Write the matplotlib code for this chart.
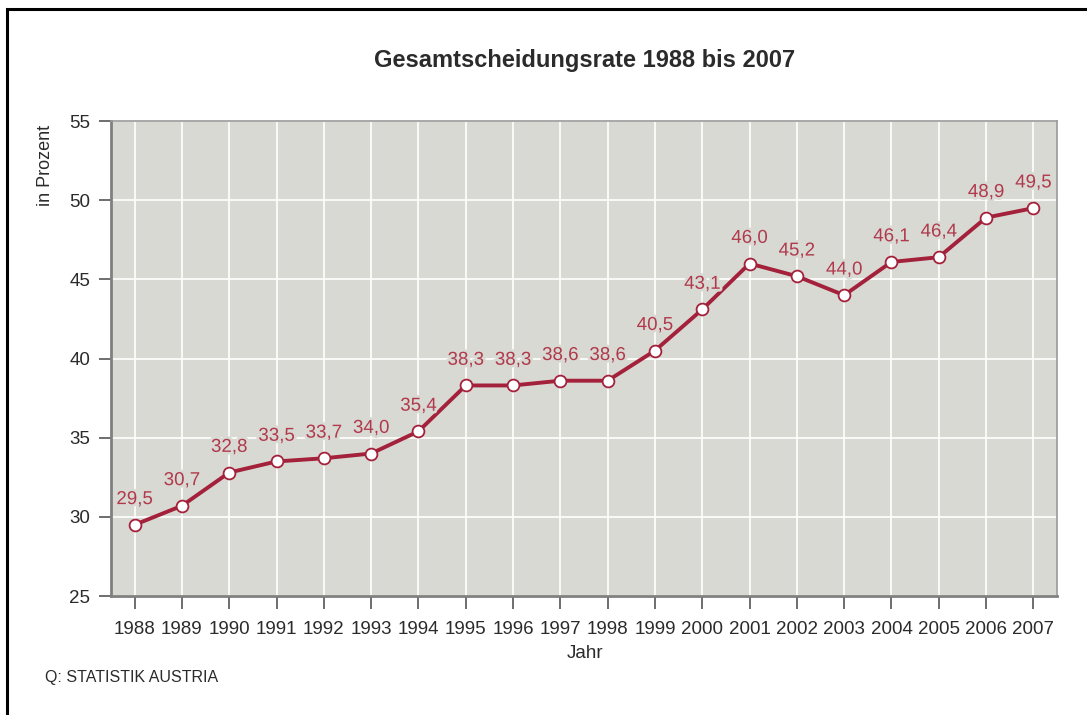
import matplotlib.pyplot as plt
import matplotlib.patheffects as pe
from matplotlib.patches import Rectangle

plt.rcParams['font.family'] = ['Liberation Sans', 'DejaVu Sans']

# Daten
jahre = [1988, 1989, 1990, 1991, 1992, 1993, 1994, 1995, 1996, 1997,
         1998, 1999, 2000, 2001, 2002, 2003, 2004, 2005, 2006, 2007]
rate = [29.5, 30.7, 32.8, 33.5, 33.7, 34.0, 35.4, 38.3, 38.3, 38.6,
        38.6, 40.5, 43.1, 46.0, 45.2, 44.0, 46.1, 46.4, 48.9, 49.5]
y_ticks = [25, 30, 35, 40, 45, 50, 55]

bg = '#d9d9d4'
red = '#a3213a'
label_red = '#b03a4c'
text_col = '#2b2b2b'

fig = plt.figure(figsize=(10.87, 7.15), dpi=100)
ax = fig.add_axes([0.1021, 0.1664, 0.8703, 0.6643])
ax.set_facecolor(bg)

ax.plot(jahre, rate, color=red, lw=2.8, zorder=3,
        marker='o', markersize=8.5, markerfacecolor='white',
        markeredgecolor=red, markeredgewidth=1.3)

for x, y in zip(jahre, rate):
    ax.annotate(f'{y:.1f}'.replace('.', ','), (x, y), xytext=(0, 12),
                textcoords='offset points', ha='center', va='bottom',
                fontsize=13.5, color=label_red, zorder=4,
                path_effects=[pe.withStroke(linewidth=4, foreground=bg)])

ax.set_xlim(1987.5, 2007.5)
ax.set_ylim(25, 55)
ax.set_xticks(jahre)
ax.set_yticks(y_ticks)
ax.set_xticklabels([str(j) for j in jahre])
ax.grid(True, color='white', lw=1.2, zorder=0)
ax.set_axisbelow(True)

ax.tick_params(axis='both', direction='out', length=9, width=1.2,
               colors='#555555', labelcolor=text_col, labelsize=13.5)
ax.tick_params(axis='x', pad=9)
ax.tick_params(axis='y', pad=6)

for side in ['left', 'bottom']:
    ax.spines[side].set_color('#808080')
    ax.spines[side].set_linewidth(2)
for side in ['top', 'right']:
    ax.spines[side].set_color('#9a9a9a')
    ax.spines[side].set_linewidth(1.2)

fig.text(0.538, 0.916, 'Gesamtscheidungsrate 1988 bis 2007', ha='center',
         va='center', fontsize=17, fontweight='bold', color=text_col)
fig.text(0.538, 0.086, 'Jahr', ha='center', va='center',
         fontsize=13.5, color=text_col)
fig.text(0.042, 0.769, 'in Prozent', ha='center', va='center', rotation=90,
         fontsize=13, color=text_col)
fig.text(0.041, 0.052, 'Q: STATISTIK AUSTRIA', ha='left', va='center',
         fontsize=11.5, color=text_col)

# Rahmen
fig.patches.append(Rectangle((0.0065, -0.1), 1.1, 1.088, transform=fig.transFigure,
                             fill=False, edgecolor='black', lw=2.2))

fig.savefig('out.png', dpi=100, facecolor='white')
